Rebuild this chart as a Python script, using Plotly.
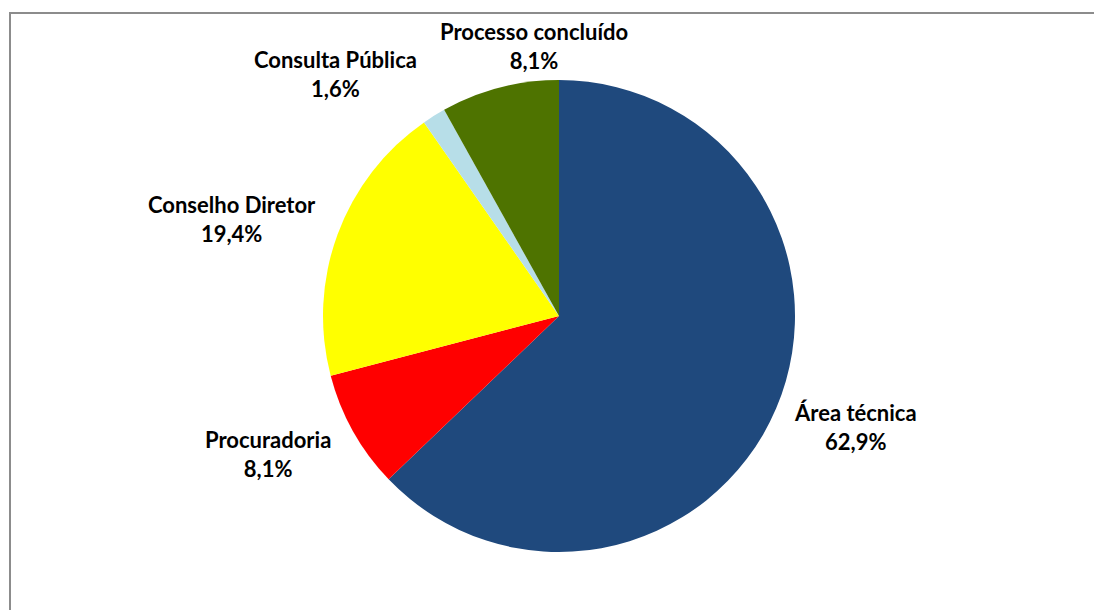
import plotly.graph_objects as go

# Data
categories = ["Área técnica", "Procuradoria", "Conselho Diretor", "Consulta Pública", "Processo concluído"]
values = [62.9, 8.1, 19.4, 1.6, 8.1]
colors = ["#1F497D", "#FF0000", "#FFFF00", "#B7DEE8", "#4E7300"]

W, H = 1094, 610
# label anchor positions (pixels) for each category, in order
label_px = [(855, 427), (268, 454), (232, 219), (335, 74), (534, 46)]

cx, cy, r = 559, 316, 236

fig = go.Figure()
fig.add_trace(go.Pie(
    labels=categories,
    values=values,
    sort=False,
    direction="clockwise",
    rotation=0,
    marker=dict(colors=colors, line=dict(width=0)),
    textinfo="none",
    hoverinfo="label+value",
    showlegend=False,
    domain=dict(x=[(cx - r) / W, (cx + r) / W], y=[1 - (cy + r) / H, 1 - (cy - r) / H]),
))

for name, v, (px, py) in zip(categories, values, label_px):
    fig.add_annotation(
        x=px / W, y=1 - py / H, xref="paper", yref="paper",
        text=f"<b>{name}<br>{v:.1f}%</b>".replace(".", ","),
        showarrow=False, align="center",
        font=dict(family="Lato, Open Sans, sans-serif", size=22, color="#000000"),
        xanchor="center", yanchor="middle",
    )

fig.add_shape(type="rect", xref="paper", yref="paper",
              x0=10 / W, x1=1.2, y0=-0.2, y1=1 - 13 / H,
              line=dict(color="#8C8C8C", width=2), fillcolor="rgba(0,0,0,0)")

fig.update_layout(
    width=W, height=H,
    margin=dict(l=0, r=0, t=0, b=0),
    paper_bgcolor="#FFFFFF",
    plot_bgcolor="#FFFFFF",
    separators=",.",
)

fig.write_html("out.html",
               config={"displayModeBar": False},
               post_script="document.body.style.margin='0';document.body.style.overflow='hidden';")
